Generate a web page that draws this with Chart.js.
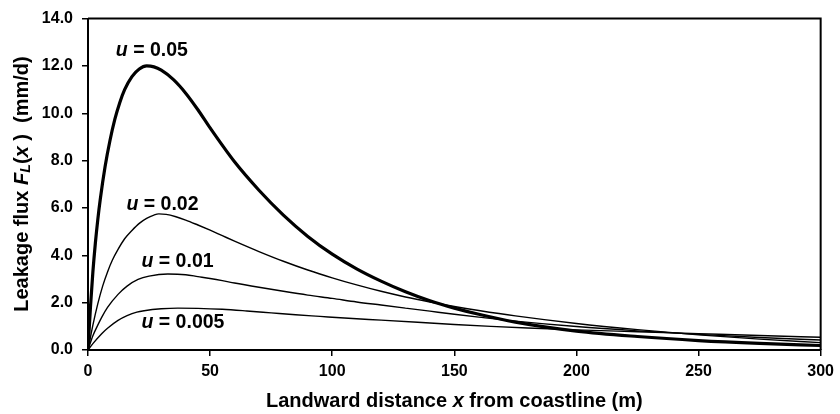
<!DOCTYPE html>
<html>
<head>
<meta charset="utf-8">
<script src="https://cdn.jsdelivr.net/npm/chart.js@4.4.1/dist/chart.umd.min.js"></script>
<style>
    html, body { margin: 0; padding: 0; background: #fff; }
</style>
</head>
<body>
<canvas id="leakageChart" width="840" height="414"></canvas>
<script>
    // axis ticks
    const xTicks = [0, 50, 100, 150, 200, 250, 300];
    const yTicks = [0, 2, 4, 6, 8, 10, 12, 14];

    // curve labels
    const seriesLabels = ['0.05', '0.02', '0.01', '0.005'];

    // u = 0.05 (thick line)
    const x05 = [0, 1, 2, 3, 4, 5, 7, 9, 11, 13, 15, 18, 21, 24, 27, 30, 35, 40, 45, 50, 60, 70, 80, 90, 100, 110, 120, 130, 140, 150, 160, 175, 200, 225, 250, 275, 300];
    const y05 = [0, 1.8, 3.3, 4.5, 5.5, 6.35, 7.75, 8.85, 9.75, 10.45, 11.0, 11.55, 11.87, 12.0, 11.96, 11.82, 11.42, 10.85, 10.15, 9.38, 7.95, 6.75, 5.7, 4.8, 4.05, 3.43, 2.91, 2.46, 2.08, 1.77, 1.51, 1.18, 0.8, 0.57, 0.4, 0.28, 0.19];

    // u = 0.02
    const x02 = [0, 2, 4, 6, 8, 10, 12.3, 15, 18, 21, 24, 27, 29, 32, 36, 40, 45, 50, 55, 60, 70, 80, 90, 100, 110, 120, 130, 140, 150, 160, 175, 200, 225, 250, 275, 300];
    const y02 = [0, 1.05, 1.95, 2.7, 3.3, 3.8, 4.25, 4.7, 5.05, 5.35, 5.56, 5.7, 5.75, 5.73, 5.63, 5.49, 5.28, 5.06, 4.83, 4.6, 4.16, 3.75, 3.38, 3.05, 2.75, 2.48, 2.24, 2.03, 1.84, 1.67, 1.44, 1.12, 0.86, 0.64, 0.46, 0.31];

    // u = 0.01
    const x01 = [0, 2, 4, 5.6, 8, 12.3, 16, 20.5, 25, 32.7, 40, 45, 50, 55, 60, 70, 80, 90, 100, 110, 120, 130, 140, 150, 160, 175, 200, 225, 250, 275, 300];
    const y01 = [0, 0.6, 1.05, 1.38, 1.8, 2.35, 2.7, 2.98, 3.12, 3.21, 3.18, 3.1, 3.02, 2.93, 2.83, 2.65, 2.48, 2.32, 2.18, 2.03, 1.9, 1.77, 1.64, 1.51, 1.39, 1.22, 0.99, 0.81, 0.66, 0.53, 0.42];

    // u = 0.005
    const x005 = [0, 2, 5.6, 8, 12.3, 16, 20, 23, 30, 36.8, 45, 55, 65, 75, 85, 95, 105, 120, 135, 150, 165, 180, 200, 225, 250, 275, 300];
    const y005 = [0, 0.27, 0.69, 0.92, 1.25, 1.45, 1.6, 1.66, 1.74, 1.77, 1.76, 1.72, 1.65, 1.57, 1.49, 1.42, 1.35, 1.26, 1.17, 1.08, 1.0, 0.93, 0.85, 0.77, 0.69, 0.61, 0.54];

    const toPoints = (xs, ys) => xs.map((x, i) => ({ x: x, y: ys[i] }));

    const FONT = '"Liberation Sans", Arial, Helvetica, sans-serif';

    // draws a row of text pieces with mixed styles (italic, subscript)
    function drawRuns(ctx, runs, x, y, align, size) {
        const fontOf = (r) => (r.italic ? 'italic ' : '') + 'bold ' + (r.sub ? size * 0.72 : size) + 'px ' + FONT;
        let total = 0;
        runs.forEach(r => {
            ctx.font = fontOf(r);
            r.w = ctx.measureText(r.t).width;
            total += r.w;
        });
        let cx = align === 'center' ? x - total / 2 : x;
        runs.forEach(r => {
            ctx.font = fontOf(r);
            ctx.fillText(r.t, cx, r.sub ? y + size * 0.22 : y);
            cx += r.w;
        });
    }

    // curve labels anchored at data coordinates
    const labelSpots = [
        { x: 11.4, y: 12.63 },
        { x: 15.75, y: 6.15 },
        { x: 21.9, y: 3.74 },
        { x: 21.9, y: 1.16 }
    ];

    const decorPlugin = {
        id: 'decor',
        afterDraw(chart) {
            const ctx = chart.ctx;
            const area = chart.chartArea;
            const xs = chart.scales.x;
            const ys = chart.scales.y;
            ctx.save();

            // top and right frame
            ctx.strokeStyle = '#000';
            ctx.lineWidth = 2;
            ctx.beginPath();
            ctx.moveTo(area.left, area.top);
            ctx.lineTo(area.right, area.top);
            ctx.lineTo(area.right, area.bottom);
            ctx.stroke();

            ctx.fillStyle = '#000';
            ctx.textBaseline = 'middle';

            // curve labels
            seriesLabels.forEach((lbl, i) => {
                drawRuns(ctx, [{ t: 'u', italic: true }, { t: ' = ' + lbl }],
                    xs.getPixelForValue(labelSpots[i].x), ys.getPixelForValue(labelSpots[i].y), 'left', 19.5);
            });

            // x axis title
            drawRuns(ctx, [
                { t: 'Landward distance ' },
                { t: 'x', italic: true },
                { t: ' from coastline (m)' }
            ], (area.left + area.right) / 2, 401, 'center', 20);

            // y axis title
            ctx.translate(22, 184);
            ctx.rotate(-Math.PI / 2);
            drawRuns(ctx, [
                { t: 'Leakage flux ' },
                { t: 'F', italic: true },
                { t: 'L', italic: true, sub: true },
                { t: '(' },
                { t: 'x', italic: true },
                { t: ' )  (mm/d)' }
            ], 0, 0, 'center', 20);

            ctx.restore();
        }
    };

    const axisGrid = {
        display: true,
        drawOnChartArea: false,
        drawTicks: true,
        tickLength: 6,
        color: '#000',
        lineWidth: 1.5
    };

    const ctx = document.getElementById('leakageChart').getContext('2d');
    new Chart(ctx, {
        type: 'line',
        data: {
            datasets: [
                { label: 'u = 0.05', data: toPoints(x05, y05), borderColor: '#000', borderWidth: 3.2 },
                { label: 'u = 0.02', data: toPoints(x02, y02), borderColor: '#000', borderWidth: 1.4 },
                { label: 'u = 0.01', data: toPoints(x01, y01), borderColor: '#000', borderWidth: 1.4 },
                { label: 'u = 0.005', data: toPoints(x005, y005), borderColor: '#000', borderWidth: 1.4 }
            ]
        },
        options: {
            responsive: false,
            animation: false,
            devicePixelRatio: 1,
            layout: {
                padding: { top: 13, right: 15, left: 0, bottom: 0 }
            },
            elements: {
                point: { radius: 0 },
                line: { cubicInterpolationMode: 'monotone', fill: false }
            },
            plugins: {
                legend: { display: false },
                tooltip: { enabled: false }
            },
            scales: {
                x: {
                    type: 'linear',
                    min: 0,
                    max: 300,
                    afterFit: (scale) => { scale.height = 64; },
                    afterBuildTicks: (scale) => { scale.ticks = xTicks.map(v => ({ value: v })); },
                    grid: axisGrid,
                    border: { display: true, color: '#000', width: 2 },
                    ticks: {
                        color: '#000',
                        padding: 6,
                        maxRotation: 0,
                        font: { family: FONT, size: 16, weight: 'bold' }
                    }
                },
                y: {
                    min: 0,
                    max: 14,
                    afterFit: (scale) => { scale.width = 88; },
                    afterBuildTicks: (scale) => { scale.ticks = yTicks.map(v => ({ value: v })); },
                    grid: axisGrid,
                    border: { display: true, color: '#000', width: 2 },
                    ticks: {
                        color: '#000',
                        padding: 9,
                        font: { family: FONT, size: 16, weight: 'bold' },
                        callback: (v) => v.toFixed(1)
                    }
                }
            }
        },
        plugins: [decorPlugin]
    });
</script>
</body>
</html>
